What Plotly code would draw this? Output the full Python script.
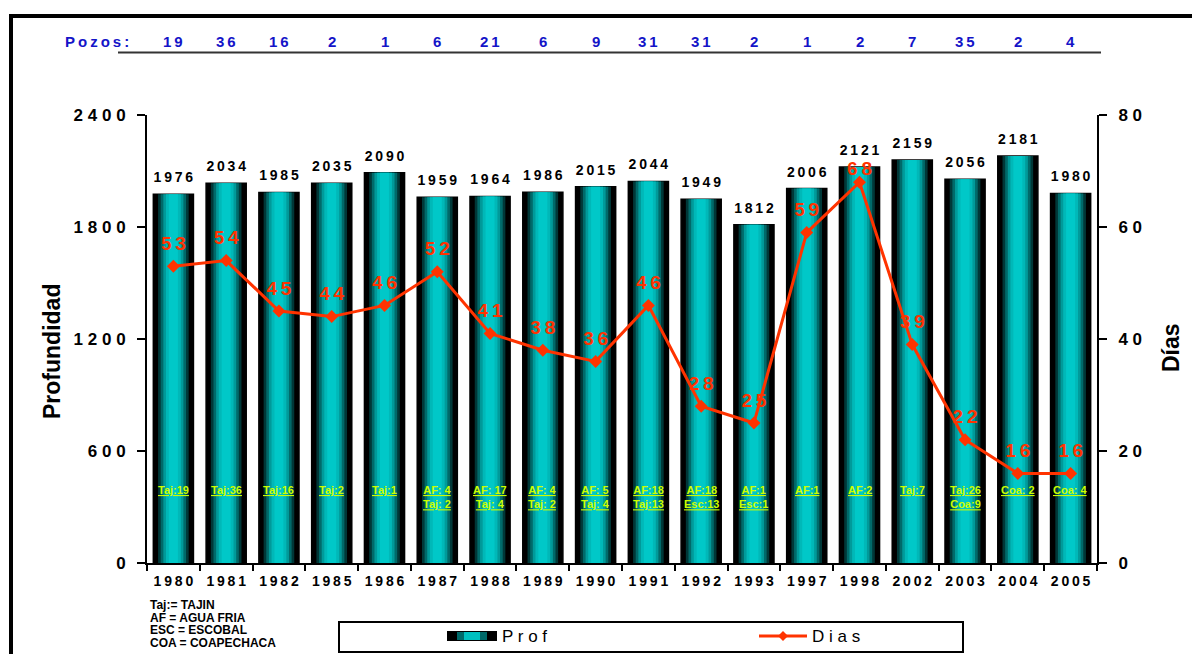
import plotly.graph_objects as go

# ---------------- data ----------------
years = ["1980", "1981", "1982", "1985", "1986", "1987", "1988", "1989", "1990",
         "1991", "1992", "1993", "1997", "1998", "2002", "2003", "2004", "2005"]
prof = [1976, 2034, 1985, 2035, 2090, 1959, 1964, 1986, 2015,
        2044, 1949, 1812, 2006, 2121, 2159, 2056, 2181, 1980]
dias = [53, 54, 45, 44, 46, 52, 41, 38, 36, 46, 28, 25, 59, 68, 39, 22, 16, 16]
pozos = [19, 36, 16, 2, 1, 6, 21, 6, 9, 31, 31, 2, 1, 2, 7, 35, 2, 4]
campos = [["Taj:19"], ["Taj:36"], ["Taj:16"], ["Taj:2"], ["Taj:1"],
          ["AF: 4", "Taj: 2"], ["AF: 17", "Taj: 4"], ["AF: 4", "Taj: 2"],
          ["AF: 5", "Taj: 4"], ["AF:18", "Taj:13"], ["AF:18", "Esc:13"],
          ["AF:1", "Esc:1"], ["AF:1"], ["AF:2"], ["Taj:7"],
          ["Taj:26", "Coa:9"], ["Coa: 2"], ["Coa: 4"]]
left_ticks = [0, 600, 1200, 1800, 2400]
right_ticks = [0, 20, 40, 60, 80]
notes = ["Taj:= TAJIN", "AF = AGUA FRIA", "ESC = ESCOBAL", "COA = COAPECHACA"]

FONT = "Liberation Sans, Arial, sans-serif"
NARROW = "Liberation Sans Narrow, Arial Narrow, Liberation Sans, sans-serif"
THIN = "\u2009"


def spaced(v, sep=THIN):
    return sep.join(str(v))


RED = "#FF3300"
BLUE = "#1414C8"
YEL = "#CCFF00"

# the page puts the figure 8px in from the top-left corner
OFF = 8
W, H = 1200 - OFF, 654 - OFF
PL, PT, PW, PH = 147, 115, 950, 448  # plot area in screen pixels


def px(x):
    return (x - PL) / PW


def py(y):
    return (PT + PH - y) / PH


fig = go.Figure()

# bars drawn as stacked-width layers to mimic the horizontal black-cyan-black gradient
layers = [(0.76, "#000000"), (0.58, "#003838"), (0.48, "#006a6a"),
          (0.38, "#009a9a"), (0.28, "#00b8b8"), (0.17, "#00c8c8")]
for i, (w, c) in enumerate(layers):
    fig.add_trace(go.Bar(
        x=years, y=prof, width=w, name="Prof",
        marker=dict(color=c, line=dict(color="#000000", width=1.5 if i == 0 else 0)),
        showlegend=False, hoverinfo="skip" if i else "x+y",
    ))

# bar value labels
fig.add_trace(go.Scatter(
    x=years, y=prof, mode="markers+text",
    marker=dict(size=12, opacity=0),
    text=[spaced(v) for v in prof], textposition="top center",
    textfont=dict(family=FONT, size=14, color="#000000", weight="bold"),
    showlegend=False, hoverinfo="skip", cliponaxis=False,
))

# Dias line
fig.add_trace(go.Scatter(
    x=years, y=dias, yaxis="y2", mode="lines+markers", name="Dias",
    line=dict(color=RED, width=3),
    marker=dict(symbol="diamond", size=10, color=RED),
    showlegend=False,
))
label_offset = [2 if d == max(dias) else 17 for d in dias]
fig.add_trace(go.Scatter(
    x=years, y=dias, yaxis="y2", mode="markers+text",
    marker=dict(size=label_offset, opacity=0),
    text=[spaced(v) for v in dias], textposition="top center",
    textfont=dict(family=FONT, size=19, color=RED, weight="bold"),
    showlegend=False, hoverinfo="skip", cliponaxis=False,
))

annotations = []
# field labels inside bars (x given as category index)
for i, lines in enumerate(campos):
    annotations.append(dict(
        x=i, y=436, xref="x", yref="y", xanchor="center", yanchor="top",
        text="<br>".join(f"<u>{t}</u>" for t in lines), showarrow=False,
        font=dict(family=FONT, size=11, color=YEL, weight="bold"),
    ))

# Pozos row
annotations.append(dict(
    x=px(131), y=py(41), xref="paper", yref="paper", xanchor="right", yanchor="middle",
    text=spaced("Pozos:"), showarrow=False,
    font=dict(family=FONT, size=15, color=BLUE, weight="bold"),
))
for i, p in enumerate(pozos):
    annotations.append(dict(
        x=i, y=py(41), xref="x", yref="paper", xanchor="center", yanchor="middle",
        text=spaced(p), showarrow=False,
        font=dict(family=FONT, size=15, color=BLUE, weight="bold"),
    ))

# axis titles
annotations.append(dict(
    x=px(52), y=py(352), xref="paper", yref="paper", textangle=-90,
    xanchor="center", yanchor="middle",
    text="Profundidad", showarrow=False,
    font=dict(family=FONT, size=23, color="#000000", weight="bold"),
))
annotations.append(dict(
    x=px(1171), y=py(348), xref="paper", yref="paper", textangle=-90,
    xanchor="center", yanchor="middle",
    text="Días", showarrow=False,
    font=dict(family=FONT, size=23, color="#000000", weight="bold"),
))

# notes (one line each)
for k, t in enumerate(notes):
    annotations.append(dict(
        x=px(148), y=py(605 + 12.5 * k), xref="paper", yref="paper",
        xanchor="left", yanchor="middle", text=t, showarrow=False,
        font=dict(family=NARROW, size=12, color="#000000", weight="bold"),
    ))

# legend texts
annotations.append(dict(
    x=px(500), y=py(636), xref="paper", yref="paper",
    xanchor="left", yanchor="middle", text=spaced("Prof", " "), showarrow=False,
    font=dict(family=NARROW, size=17, color="#000000"),
))
annotations.append(dict(
    x=px(810), y=py(636), xref="paper", yref="paper",
    xanchor="left", yanchor="middle", text=spaced("Dias", " "), showarrow=False,
    font=dict(family=NARROW, size=17, color="#000000"),
))

shapes = [
    # frame
    dict(type="line", xref="paper", yref="paper", x0=px(9), x1=px(1200), y0=py(16), y1=py(16),
         line=dict(color="#000000", width=4)),
    dict(type="line", xref="paper", yref="paper", x0=px(11), x1=px(11), y0=py(14), y1=py(660),
         line=dict(color="#000000", width=4)),
    # Pozos underline
    dict(type="line", xref="paper", yref="paper", x0=px(118), x1=px(1101), y0=py(52.5), y1=py(52.5),
         line=dict(color="#333333", width=2)),
    # legend box
    dict(type="rect", xref="paper", yref="paper", x0=px(339), x1=px(963), y0=py(622), y1=py(652),
         line=dict(color="#000000", width=2), fillcolor="rgba(0,0,0,0)"),
    # legend bar swatch
    dict(type="rect", xref="paper", yref="paper", x0=px(447), x1=px(497), y0=py(631), y1=py(641),
         line=dict(width=0), fillcolor="#000000"),
    dict(type="rect", xref="paper", yref="paper", x0=px(457), x1=px(487), y0=py(632), y1=py(640),
         line=dict(width=0), fillcolor="#006a6a"),
    dict(type="rect", xref="paper", yref="paper", x0=px(464), x1=px(480), y0=py(632), y1=py(640),
         line=dict(width=0), fillcolor="#00c0c0"),
    # legend line swatch
    dict(type="line", xref="paper", yref="paper", x0=px(759), x1=px(807), y0=py(636), y1=py(636),
         line=dict(color=RED, width=3)),
    dict(type="path", xref="paper", yref="paper",
         path=(f"M {px(783)} {py(631)} L {px(788)} {py(636)} L {px(783)} {py(641)} "
               f"L {px(778)} {py(636)} Z"),
         line=dict(width=0), fillcolor=RED),
]

axis_font = dict(family=FONT, size=17, color="#000000", weight="bold")
fig.update_layout(
    width=W, height=H,
    margin=dict(l=PL - OFF, r=W - (PL - OFF) - PW, t=PT - OFF, b=H - (PT - OFF) - PH),
    paper_bgcolor="white", plot_bgcolor="white",
    barmode="overlay", showlegend=False,
    xaxis=dict(
        type="category", categoryorder="array", categoryarray=years,
        range=[-0.5, len(years) - 0.5],
        tickvals=years, ticktext=[spaced(y) for y in years],
        showline=True, linecolor="#000000", linewidth=2,
        ticks="outside", tickson="boundaries", ticklen=6, tickwidth=2, tickcolor="#000000",
        tickfont=dict(family=FONT, size=14, color="#000000", weight="bold"),
        tickangle=0,
        showgrid=False, zeroline=False, ticklabelstandoff=4,
    ),
    yaxis=dict(
        range=[0, 2400], tickvals=left_ticks, ticktext=[spaced(v, " ") for v in left_ticks],
        showline=True, linecolor="#000000", linewidth=2,
        ticks="outside", ticklen=8, tickwidth=2, tickcolor="#000000",
        tickfont=axis_font, showgrid=False, zeroline=False, ticklabelstandoff=8,
    ),
    yaxis2=dict(
        range=[0, 80], overlaying="y", side="right",
        tickvals=right_ticks, ticktext=[spaced(v, " ") for v in right_ticks],
        showline=True, linecolor="#000000", linewidth=2,
        ticks="outside", ticklen=8, tickwidth=2, tickcolor="#000000",
        tickfont=axis_font, showgrid=False, zeroline=False, ticklabelstandoff=8,
    ),
    annotations=annotations,
    shapes=shapes,
)

fig.write_html("out.html")
